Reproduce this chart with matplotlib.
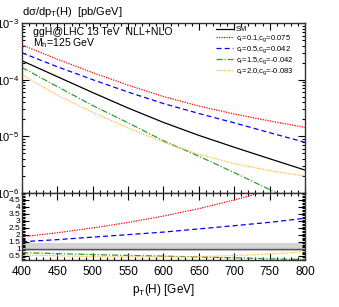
import matplotlib
matplotlib.use('Agg')
import matplotlib.pyplot as plt
from matplotlib.ticker import MultipleLocator, LogLocator, NullFormatter

plt.rcParams.update({'font.family': ['Liberation Sans', 'DejaVu Sans']})
plt.rcParams.update({'mathtext.fontset': 'custom'})
plt.rcParams.update({'mathtext.rm': 'Liberation Sans'})
plt.rcParams.update({'mathtext.it': 'Liberation Sans'})

# pT(H) grid and spectra [pb/GeV]
pt = [400, 450, 500, 550, 600, 650, 700, 750, 800]
sm = [2.16e-4, 1.13e-4, 5.92e-5, 3.16e-5, 1.76e-5, 1.04e-5, 6.42e-6, 4.03e-6, 2.54e-6]
ct01 = [4.11e-4, 2.29e-4, 1.33e-4, 8.01e-5, 5.04e-5, 3.43e-5, 2.48e-5, 1.87e-5, 1.44e-5]
ct05 = [2.98e-4, 1.69e-4, 1.00e-4, 6.04e-5, 3.79e-5, 2.53e-5, 1.73e-5, 1.16e-5, 7.85e-6]
ct15 = [1.64e-4, 7.54e-5, 3.50e-5, 1.73e-5, 8.34e-6, 4.46e-6, 2.29e-6, 1.15e-6, 5.9e-7]
ct20 = [1.22e-4, 5.35e-5, 2.64e-5, 1.41e-5, 7.85e-6, 4.83e-6, 3.30e-6, 2.48e-6, 1.99e-6]

# ratios to SM (lower panel)
r01 = [1.87, 2.15, 2.50, 2.89, 3.35, 3.88, 4.50, 5.20, 6.00]
r05 = [1.51, 1.66, 1.84, 2.02, 2.20, 2.43, 2.66, 2.90, 3.19]
r15 = [0.73, 0.66, 0.59, 0.53, 0.48, 0.42, 0.36, 0.29, 0.24]
r20 = [0.57, 0.50, 0.45, 0.42, 0.42, 0.45, 0.52, 0.63, 0.79]
band_lo = [0.85] * len(pt)
band_hi = [1.45] * len(pt)
sm_ratio = [1.0] * len(pt)

labels = ['SM', r'c$_t$=0.1,c$_g$=0.075', r'c$_t$=0.5,c$_g$=0.042',
          r'c$_t$=1.5,c$_g$=-0.042', r'c$_t$=2.0,c$_g$=-0.083']
colors = ['black', '#ff0000', '#0000ff', '#2e9e2e', '#ffba3a']
styles = ['-', (0, (1, 1)), (0, (4, 2.5)), (0, (5, 1.5, 1, 1.5)), (0, (1, 1))]

fig = plt.figure(figsize=(3.39, 3.07), dpi=100)
ax = fig.add_axes([0.0649, 0.3713, 0.8348, 0.5537])
axr = fig.add_axes([0.0649, 0.153, 0.8348, 0.2183], sharex=ax)

for y, lab, c, ls in zip([sm, ct01, ct05, ct15, ct20], labels, colors, styles):
    ax.plot(pt, y, color=c, ls=ls, lw=0.9, label=lab)

ax.set_yscale('log')
ax.set_ylim(1e-6, 1e-3)
ax.set_xlim(400, 800)
ax.yaxis.set_major_locator(LogLocator(base=10, numticks=10))
ax.yaxis.set_minor_locator(LogLocator(base=10, subs=range(2, 10), numticks=20))
ax.yaxis.set_minor_formatter(NullFormatter())
ax.tick_params(labelbottom=False)

ax.text(0.038, 0.945, 'ggH@LHC 13 TeV  NLL+NLO', transform=ax.transAxes,
        fontsize=7.6, va='center')
ax.text(0.038, 0.88, r'M$_h$=125 GeV', transform=ax.transAxes,
        fontsize=7.6, va='center')
fig.text(0.065, 0.962, r'd$\sigma$/dp$_T$(H)  [pb/GeV]', fontsize=8, va='center')

ax.legend(loc='upper left', bbox_to_anchor=(0.685, 0.982), frameon=False,
          fontsize=5.5, handlelength=2.2, handletextpad=0.4, labelspacing=0.0,
          borderpad=0, borderaxespad=0)

# ratio panel
axr.fill_between(pt, band_lo, band_hi, color='#d4d4d4', lw=0)
axr.plot(pt, sm_ratio, color='#555555', lw=1.0)
for y, c, ls in zip([r01, r05, r15, r20], colors[1:], styles[1:]):
    axr.plot(pt, y, color=c, ls=ls, lw=0.9)
axr.set_ylim(0.2, 5.0)
axr.yaxis.set_minor_locator(MultipleLocator(0.1))
axr.set_yticks([0.5, 1, 1.5, 2, 2.5, 3, 3.5, 4, 4.5])
axr.set_yticklabels(['0.5', '1', '1.5', '2', '2.5', '3', '3.5', '4', '4.5'])
axr.xaxis.set_major_locator(MultipleLocator(50))
axr.xaxis.set_minor_locator(MultipleLocator(10))
axr.set_xlabel(r'p$_T$(H) [GeV]', fontsize=8.5, labelpad=3)

for a in (ax, axr):
    a.tick_params(which='both', direction='in', top=True, right=True, width=0.8)
    a.tick_params(which='major', length=5)
    a.tick_params(which='minor', length=2.5)
    for s in a.spines.values():
        s.set_linewidth(1.0)
        s.set_color('#333333')
ax.tick_params(axis='y', labelsize=8, pad=2)
axr.tick_params(axis='y', labelsize=6, pad=1)
axr.tick_params(axis='x', labelsize=8.5, pad=4)

fig.savefig('out.png', dpi=100)
